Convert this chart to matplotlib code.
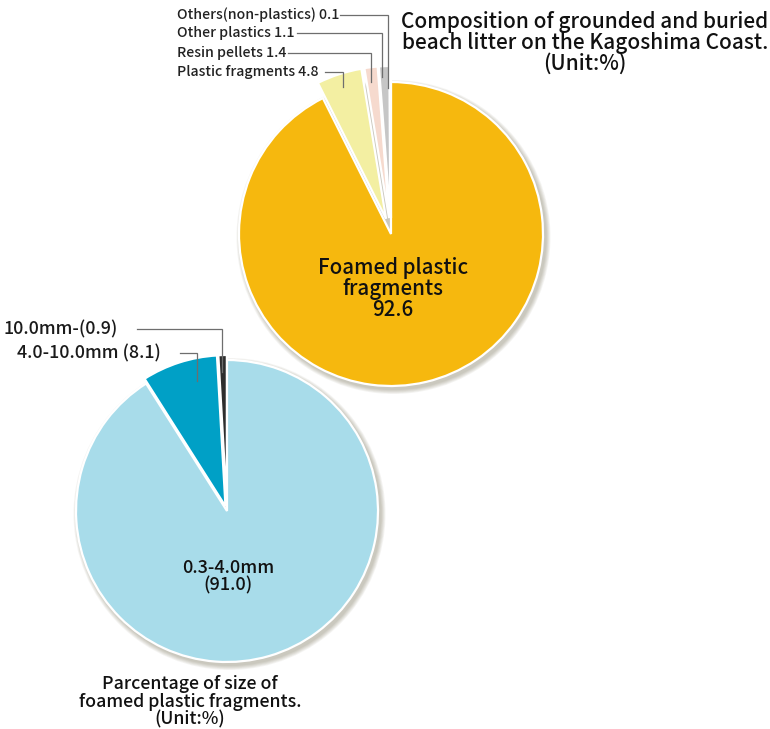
import matplotlib.pyplot as plt
from matplotlib.patches import Circle

plt.rcParams['font.family'] = ['Noto Sans CJK JP', 'DejaVu Sans']
plt.rcParams['font.weight'] = 'medium'

# Composition of beach litter (%)
litter_labels = ['Foamed plastic fragments', 'Plastic fragments', 'Resin pellets',
                 'Other plastics', 'Others(non-plastics)']
litter_values = [92.6, 4.8, 1.4, 1.1, 0.1]
litter_colors = ['#f6b80e', '#f3efa2', '#f6dace', '#c6c6c6', '#858585']

# Size split of foamed plastic fragments (%)
size_labels = ['0.3-4.0mm', '4.0-10.0mm', '10.0mm-']
size_values = [91.0, 8.1, 0.9]
size_colors = ['#a8dcea', '#00a0c6', '#2e2e2e']

W, H = 770, 729


def Y(py):
    # work in pixel-like coords with the origin at the top left
    return H - py


def soft_shadow(ax, cx, cy, r):
    for i in range(6):
        ax.add_patch(Circle((cx + 2.5, cy - 3), r + 1 + i * 0.8,
                            facecolor='#5a5232', edgecolor='none',
                            alpha=0.06, zorder=0))


fig = plt.figure(figsize=(W / 100, H / 100), dpi=100)
ax = fig.add_axes([0, 0, 1, 1])

# top pie (explode is in data units = pixels here)
c1 = (391, Y(234))
r1 = 152
soft_shadow(ax, c1[0], c1[1], r1)
ax.pie(litter_values, colors=litter_colors, startangle=90, counterclock=False,
       center=c1, radius=r1, explode=[0, 16, 16, 16, 16],
       wedgeprops=dict(edgecolor='white', linewidth=1.6))

# bottom pie
c2 = (227, Y(511))
r2 = 151
soft_shadow(ax, c2[0], c2[1], r2)
ax.pie(size_values, colors=size_colors, startangle=90, counterclock=False,
       center=c2, radius=r2, explode=[0, 5, 5],
       wedgeprops=dict(edgecolor='white', linewidth=1.6))

# leader lines for the small slices
lc = '#6e6e6e'
leaders_top = [
    ('Others(non-plastics) 0.1', 15, 340, 388, 88),
    ('Other plastics 1.1', 33, 297, 382, 77),
    ('Resin pellets 1.4', 53, 288, 371, 82),
    ('Plastic fragments 4.8', 72, 325, 343, 87),
]
for txt, ty, x0, x1, yb in leaders_top:
    ax.text(177, Y(ty), txt, fontsize=10.2, ha='left', va='center', color='#222222')
    ax.plot([x0, x1, x1], [Y(ty), Y(ty), Y(yb)], color=lc, lw=0.9,
            solid_joinstyle='miter')

leaders_bottom = [
    ('10.0mm-(0.9)', 329, 137, 222, 372),
    ('4.0-10.0mm (8.1)', 353, 180, 197, 381),
]
for txt, ty, x0, x1, yb in leaders_bottom:
    ax.text(x0 - 19, Y(ty), txt, fontsize=12.8, ha='right', va='center', color='#1a1a1a')
    ax.plot([x0, x1, x1], [Y(ty), Y(ty), Y(yb)], color=lc, lw=0.9,
            solid_joinstyle='miter')

# labels inside the big slices
ax.text(c1[0] + 2, Y(289), f'Foamed plastic\nfragments\n{litter_values[0]}',
        fontsize=14.8, ha='center', va='center', linespacing=0.97, color='#111111')
ax.text(c2[0] + 1, Y(577), f'{size_labels[0]}\n({size_values[0]})',
        fontsize=13, ha='center', va='center', linespacing=0.97, color='#111111')

# chart titles
ax.text(585, Y(43), 'Composition of grounded and buried\nbeach litter on the Kagoshima Coast.\n(Unit:%)',
        fontsize=15, ha='center', va='center', linespacing=0.92, color='#111111')
ax.text(190, Y(702), 'Parcentage of size of\nfoamed plastic fragments.\n(Unit:%)',
        fontsize=12.8, ha='center', va='center', linespacing=0.98, color='#111111')

ax.set_xlim(0, W)
ax.set_ylim(0, H)
ax.set_aspect('equal')
ax.axis('off')

fig.savefig('out.png', dpi=100, facecolor='white')
